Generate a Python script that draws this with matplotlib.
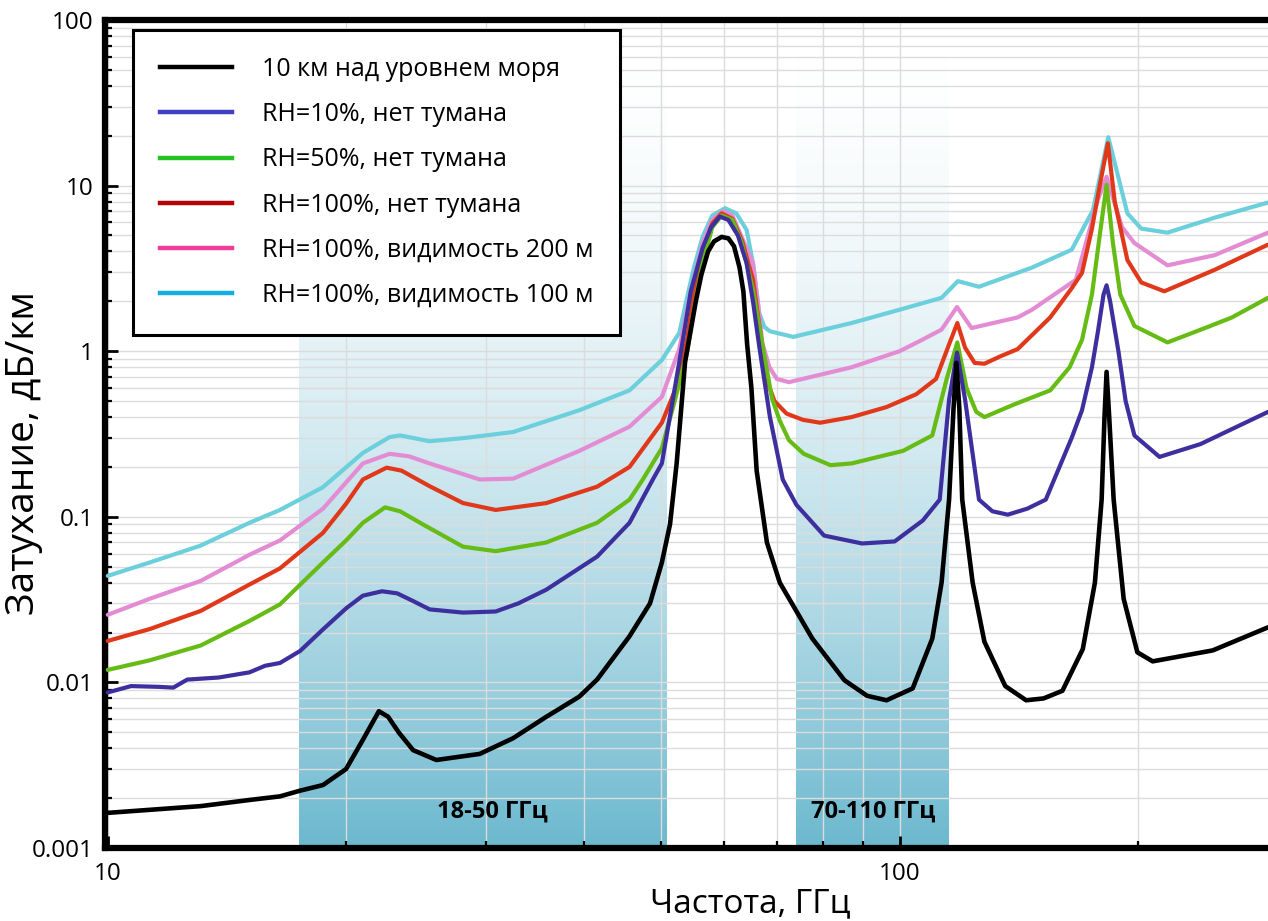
import numpy as np
import matplotlib.pyplot as plt
from matplotlib.lines import Line2D
from matplotlib.ticker import LogLocator, NullFormatter

plt.rcParams['font.family'] = ['Open Sans', 'DejaVu Sans']

# legend labels and colours (legend swatches differ a bit from the plotted lines)
labels = ['10 км над уровнем моря', 'RH=10%, нет тумана', 'RH=50%, нет тумана',
          'RH=100%, нет тумана', 'RH=100%, видимость 200 м', 'RH=100%, видимость 100 м']
line_colors = ['#000000', '#3d2f9e', '#66bb14', '#e0381a', '#e38cd4', '#6ccfdc']
legend_colors = ['#000000', '#3f3fc4', '#22c322', '#b80000', '#f03c9b', '#12aee2']

# frequency, GHz / attenuation, dB/km
f_black = [10.0, 13.1, 15.1, 16.5, 17.5, 18.7, 20.0, 21.0, 22.0, 22.6, 23.3, 24.3, 26.0, 29.5,
           32.5, 35.8, 39.4, 41.5, 45.6, 48.4, 50.1, 51.3, 52.3, 53.6, 55.3, 56.2, 57.3, 58.3,
           59.6, 60.8, 61.8, 62.8, 63.5, 64.2, 65.0, 66.0, 68.0, 70.6, 77.6, 85.2, 91.0, 96.3,
           103.9, 110.0, 113.0, 115.5, 117.0, 118.0, 119.0, 120.0, 123.7, 128.0, 136.0, 144.5,
           152.0, 160.6, 170.4, 176.5, 180.0, 181.5, 182.6, 184.0, 186.4, 191.9, 199.7, 208.8,
           248.6, 292.0]
a_black = [0.00163, 0.00179, 0.00195, 0.00205, 0.00222, 0.0024, 0.0030, 0.0045, 0.0067, 0.0062,
           0.0050, 0.0039, 0.0034, 0.0037, 0.0046, 0.0062, 0.0082, 0.0104, 0.019, 0.030, 0.053,
           0.09, 0.21, 0.86, 2.0, 2.9, 4.0, 4.6, 4.9, 4.8, 4.3, 3.2, 2.3, 1.1, 0.6, 0.19, 0.07,
           0.040, 0.0184, 0.0103, 0.0083, 0.0078, 0.0092, 0.0184, 0.040, 0.127, 0.45, 0.85,
           0.45, 0.127, 0.040, 0.0176, 0.0095, 0.0078, 0.0080, 0.0089, 0.0159, 0.040, 0.127,
           0.4, 0.75, 0.4, 0.127, 0.032, 0.0152, 0.0134, 0.0156, 0.0215]

f_rh10 = [10.0, 10.7, 11.6, 12.1, 12.6, 13.8, 15.1, 15.8, 16.5, 17.5, 18.7, 20.0, 21.0, 22.2,
          23.2, 24.3, 25.5, 28.1, 30.9, 33.0, 35.8, 41.5, 45.6, 48.8, 50.1, 52.7, 54.5, 56.4,
          57.8, 59.3, 60.8, 62.5, 64.1, 65.3, 66.5, 68.6, 71.2, 74.1, 80.3, 89.7, 98.6, 107.0,
          112.4, 115.5, 118.2, 121.0, 126.0, 131.0, 137.0, 145.0, 153.0, 165.0, 170.0, 175.0,
          178.0, 181.0, 182.6, 184.5, 189.0, 193.0, 198.0, 213.0, 240.0, 292.0]
a_rh10 = [0.0087, 0.0095, 0.0094, 0.0093, 0.0104, 0.0107, 0.0115, 0.0126, 0.0131, 0.0155,
          0.0209, 0.028, 0.0334, 0.0355, 0.0345, 0.031, 0.0276, 0.0264, 0.0268, 0.030, 0.0363,
          0.0575, 0.092, 0.168, 0.21, 0.86, 2.3, 4.2, 5.6, 6.5, 6.2, 5.0, 3.4, 2.0, 1.07, 0.40,
          0.168, 0.118, 0.077, 0.069, 0.071, 0.095, 0.127, 0.51, 0.98, 0.51, 0.127, 0.108,
          0.103, 0.112, 0.127, 0.3, 0.44, 0.8, 1.3, 2.2, 2.5, 2.0, 1.0, 0.5, 0.31, 0.23, 0.275,
          0.43]

f_rh50 = [10.0, 11.3, 13.1, 15.1, 16.5, 18.7, 20.0, 21.0, 22.4, 23.4, 25.0, 28.1, 30.9, 35.8,
          41.5, 45.6, 47.4, 50.1, 52.0, 53.9, 55.0, 56.4, 58.0, 59.6, 61.5, 63.2, 65.3, 66.7,
          67.9, 69.0, 70.6, 72.5, 75.7, 81.8, 87.0, 94.0, 101.0, 110.0, 114.7, 118.3, 121.5,
          125.0, 128.0, 140.0, 155.0, 164.0, 170.0, 175.0, 179.0, 182.6, 186.0, 190.0, 198.0,
          218.0, 245.0, 263.0, 292.0]
a_rh50 = [0.0119, 0.0136, 0.0167, 0.0235, 0.0296, 0.053, 0.072, 0.092, 0.114, 0.108, 0.090,
          0.066, 0.062, 0.070, 0.092, 0.127, 0.168, 0.26, 0.5, 0.98, 1.8, 3.4, 5.6, 6.6, 6.2,
          4.5, 2.35, 1.3, 0.8, 0.52, 0.38, 0.29, 0.24, 0.205, 0.21, 0.23, 0.25, 0.31, 0.68,
          1.13, 0.6, 0.43, 0.40, 0.48, 0.58, 0.80, 1.17, 2.2, 5.0, 10.1, 4.5, 2.2, 1.42, 1.13,
          1.4, 1.6, 2.1]

f_rh100 = [10.0, 11.3, 13.1, 15.1, 16.5, 18.7, 20.0, 21.0, 22.5, 23.5, 25.5, 28.1, 30.9, 35.8,
           41.5, 45.6, 50.1, 52.7, 53.9, 55.0, 56.4, 58.0, 59.6, 61.5, 63.3, 65.3, 66.7, 67.9,
           69.5, 72.0, 75.5, 79.4, 87.0, 96.3, 105.0, 111.2, 115.5, 118.3, 121.0, 124.4, 128.0,
           134.0, 141.0, 155.0, 165.0, 170.0, 175.0, 179.0, 183.3, 187.0, 194.0, 202.0, 216.0,
           250.0, 292.0]
a_rh100 = [0.0178, 0.021, 0.027, 0.039, 0.0488, 0.080, 0.12, 0.168, 0.198, 0.19, 0.153, 0.121,
           0.110, 0.121, 0.152, 0.20, 0.37, 0.67, 1.17, 2.2, 3.9, 5.9, 6.8, 6.3, 4.6, 2.7, 1.3,
           0.68, 0.5, 0.42, 0.385, 0.37, 0.40, 0.46, 0.55, 0.68, 1.1, 1.48, 1.05, 0.85, 0.84,
           0.93, 1.03, 1.6, 2.4, 2.97, 5.5, 10.0, 18.0, 8.0, 3.55, 2.6, 2.3, 3.1, 4.4]

f_vis200 = [10.0, 11.3, 13.1, 15.1, 16.5, 18.7, 21.0, 22.7, 24.0, 25.5, 29.5, 32.5, 39.4, 45.6,
            50.1, 52.7, 54.5, 56.4, 58.0, 59.8, 61.5, 63.3, 65.3, 66.2, 67.1, 68.5, 70.0, 72.5,
            87.0, 100.0, 106.0, 113.0, 118.2, 123.3, 141.0, 147.0, 167.0, 178.0, 182.6, 191.0,
            198.0, 218.0, 250.0, 292.0]
a_vis200 = [0.0256, 0.032, 0.041, 0.059, 0.072, 0.112, 0.21, 0.24, 0.232, 0.21, 0.168, 0.17,
            0.25, 0.35, 0.53, 1.03, 2.3, 4.5, 6.2, 7.0, 6.6, 4.8, 3.4, 2.0, 1.12, 0.8, 0.68,
            0.65, 0.8, 1.0, 1.15, 1.35, 1.85, 1.38, 1.6, 1.78, 2.7, 8.2, 11.3, 5.6, 4.5, 3.3,
            3.8, 5.2]

f_vis100 = [10.0, 11.3, 13.1, 15.1, 16.5, 18.7, 21.0, 22.7, 23.4, 25.5, 28.4, 32.5, 39.4, 45.6,
            50.1, 52.7, 53.9, 55.0, 56.4, 58.0, 60.2, 62.2, 64.1, 65.3, 66.5, 67.5, 68.6, 73.4,
            87.0, 100.0, 113.0, 118.5, 126.0, 147.0, 165.0, 175.5, 183.5, 194.0, 202.0, 218.0,
            250.0, 292.0]
a_vis100 = [0.044, 0.053, 0.067, 0.092, 0.11, 0.151, 0.243, 0.303, 0.31, 0.286, 0.30, 0.325,
            0.44, 0.58, 0.885, 1.29, 2.1, 3.2, 4.9, 6.6, 7.3, 6.8, 5.4, 3.4, 1.7, 1.4, 1.32,
            1.22, 1.48, 1.78, 2.1, 2.65, 2.45, 3.2, 4.1, 7.1, 19.6, 6.8, 5.5, 5.2, 6.4, 7.9]

band_edges = [(17.43, 50.8), (74.1, 115.3)]
band_labels = ['18-50 ГГц', '70-110 ГГц']

series = [(f_black, a_black), (f_rh10, a_rh10), (f_rh50, a_rh50),
          (f_rh100, a_rh100), (f_vis200, a_vis200), (f_vis100, a_vis100)]

xmin, xmax = 9.92, 292.0
ymin, ymax = 0.001, 100.0

fig = plt.figure(figsize=(12.68, 9.21), dpi=100)
ax = fig.add_axes([105 / 1268, 73 / 921, 1163 / 1268, 828 / 921])
ax.set_xscale('log')
ax.set_yscale('log')

# gradient bands: opaque at the bottom, fading to nothing at the top
ny = 300
t = np.linspace(0, 1, ny)
rgba = np.zeros((ny, 1, 4))
rgba[:, 0, 0], rgba[:, 0, 1], rgba[:, 0, 2] = 0.42, 0.725, 0.81
rgba[:, 0, 3] = (1 - t) ** 1.8
lx = np.log10(xmax / xmin)
for f0, f1 in band_edges:
    x0 = np.log10(f0 / xmin) / lx
    x1 = np.log10(f1 / xmin) / lx
    ax.imshow(rgba, extent=[x0, x1, 0, 1], transform=ax.transAxes,
              aspect='auto', origin='lower', interpolation='bilinear', zorder=0)

ax.text(30.6, 0.00165, band_labels[0], ha='center', va='center',
        fontsize=17, fontweight='bold', zorder=5)
ax.text(92.5, 0.00165, band_labels[1], ha='center', va='center',
        fontsize=17, fontweight='bold', zorder=5)

# draw from top curve down so black ends up on top
for i in range(5, -1, -1):
    f, a = series[i]
    ax.plot(f, a, color=line_colors[i], lw=3.3 if i == 0 else 3.0,
            solid_joinstyle='round', solid_capstyle='round', zorder=3 + (5 - i) * 0.1)

ax.set_xlim(xmin, xmax)
ax.set_ylim(ymin, ymax)

ax.set_xticks([10, 100])
ax.set_xticklabels(['10', '100'])
ax.xaxis.set_minor_locator(LogLocator(base=10, subs=np.arange(2, 10)))
ax.xaxis.set_minor_formatter(NullFormatter())
ax.set_yticks([0.001, 0.01, 0.1, 1, 10, 100])
ax.set_yticklabels(['0.001', '0.01', '0.1', '1', '10', '100'])
ax.yaxis.set_minor_locator(LogLocator(base=10, subs=np.arange(2, 10)))
ax.yaxis.set_minor_formatter(NullFormatter())

ax.tick_params(which='major', direction='in', length=9, width=2, labelsize=17.5, colors='black')
ax.tick_params(which='minor', direction='in', length=5, width=1.6)
ax.tick_params(axis='x', which='major', pad=10)
ax.tick_params(axis='y', which='major', pad=8)

ax.set_axisbelow(True)
ax.grid(True, which='both', color='#dcdcdc', lw=1)

for side in ['left', 'bottom', 'top']:
    ax.spines[side].set_linewidth(4.5)
ax.spines['right'].set_visible(False)

ax.set_xlabel('Частота, ГГц', fontsize=24)
ax.xaxis.set_label_coords(0.555, -0.048)
ax.set_ylabel('Затухание, дБ/км', fontsize=28)
ax.yaxis.set_label_coords(-0.053, 0.477)

handles = [Line2D([0], [0], color=c, lw=3.2) for c in legend_colors]
leg = ax.legend(handles, labels, loc='upper left', bbox_to_anchor=(0.024, 0.988),
                borderaxespad=0, fontsize=18, handlelength=2.88, handletextpad=1.2,
                labelspacing=0.81, borderpad=1.08, fancybox=False, edgecolor='black',
                framealpha=1)
leg.get_frame().set_linewidth(2.2)
leg.set_zorder(10)

fig.savefig('out.png', dpi=100)
